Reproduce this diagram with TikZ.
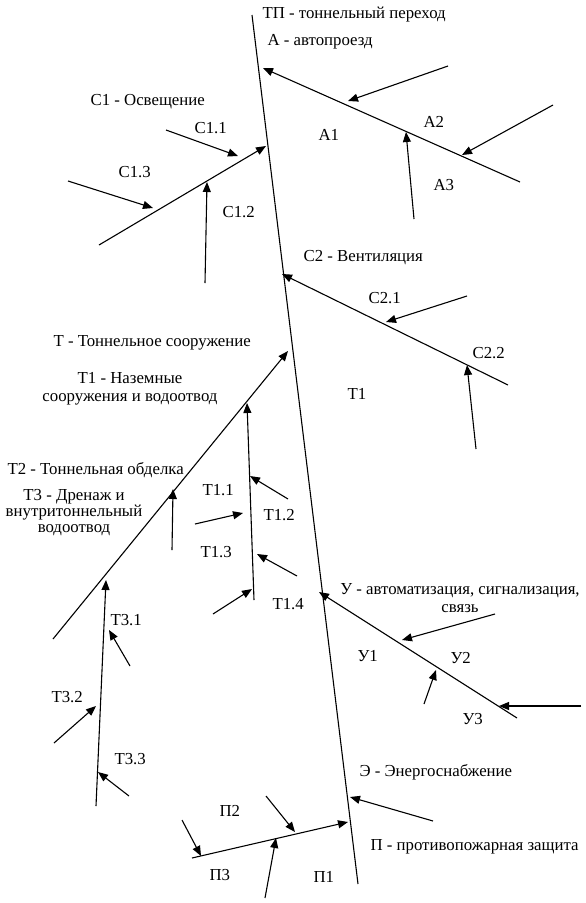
\documentclass[tikz,border=0pt]{standalone}
\usepackage{fontspec}
\setmainfont{Liberation Serif}
\usetikzlibrary{arrows.meta}

\begin{document}
\begin{tikzpicture}[x=1pt, y=-1pt, line width=1.1pt,
    every node/.style={font=\fontsize{16.8}{18}\selectfont, inner sep=0pt},
    lbl/.style={anchor=west},
    arr/.style={-{Triangle[length=10pt,width=8pt]}}]
  \useasboundingbox (0,0) rectangle (586,903);

  % spine
  \coordinate (Top) at (252,15);
  \coordinate (Bot) at (358,884);
  \draw (Top) -- (Bot);

  % A
  \coordinate (A) at (263,68);   \coordinate (Ae) at (520,182);
  \coordinate (A1s) at (448,66);  \coordinate (A1t) at (348,101);
  \coordinate (A3s) at (414,219); \coordinate (A3t) at (406,132);
  \coordinate (A2s) at (553,105); \coordinate (A2t) at (462,155);
  \draw[arr] (Ae) -- (A);
  \draw[arr] (A1s) -- (A1t);
  \draw[arr] (A3s) -- (A3t);
  \draw[arr] (A2s) -- (A2t);

  % C1
  \coordinate (C1) at (266,146);  \coordinate (C1e) at (99,245);
  \coordinate (C11s) at (166,130); \coordinate (C11t) at (238,156);
  \coordinate (C13s) at (68,181);  \coordinate (C13t) at (153,208);
  \coordinate (C12s) at (205,283); \coordinate (C12t) at (207,182);
  \draw[arr] (C1e) -- (C1);
  \draw[arr] (C11s) -- (C11t);
  \draw[arr] (C13s) -- (C13t);
  \draw[arr] (C12s) -- (C12t);

  % C2
  \coordinate (C2) at (282,274);  \coordinate (C2e) at (508,385);
  \coordinate (C21s) at (467,296); \coordinate (C21t) at (386,322);
  \coordinate (C22s) at (476,449); \coordinate (C22t) at (467,365);
  \draw[arr] (C2e) -- (C2);
  \draw[arr] (C21s) -- (C21t);
  \draw[arr] (C22s) -- (C22t);

  % T
  \coordinate (T) at (288,351);   \coordinate (Te) at (53,639);
  \draw[arr] (Te) -- (T);
  \coordinate (T1) at (247,403);  \coordinate (T1e) at (254,600);
  \draw[arr] (T1e) -- (T1);
  \coordinate (T11s) at (288,499); \coordinate (T11t) at (250,476);
  \coordinate (T12s) at (195,524); \coordinate (T12t) at (243,513);
  \coordinate (T13s) at (297,576); \coordinate (T13t) at (257,554);
  \coordinate (T14s) at (213,614); \coordinate (T14t) at (252,589);
  \draw[arr] (T11s) -- (T11t);
  \draw[arr] (T12s) -- (T12t);
  \draw[arr] (T13s) -- (T13t);
  \draw[arr] (T14s) -- (T14t);
  \coordinate (T2s) at (172,550); \coordinate (T2t) at (173,489);
  \draw[arr] (T2s) -- (T2t);
  \coordinate (T3) at (106,580);  \coordinate (T3e) at (96,806);
  \draw[arr] (T3e) -- (T3);
  \coordinate (T31s) at (130,666); \coordinate (T31t) at (109,630);
  \coordinate (T32s) at (54,743);  \coordinate (T32t) at (96,706);
  \coordinate (T33s) at (129,796); \coordinate (T33t) at (98,772);
  \draw[arr] (T31s) -- (T31t);
  \draw[arr] (T32s) -- (T32t);
  \draw[arr] (T33s) -- (T33t);

  % U
  \coordinate (U) at (319,592);   \coordinate (Ue) at (517,718);
  \coordinate (U1s) at (495,614); \coordinate (U1t) at (402,640);
  \coordinate (U2s) at (424,704); \coordinate (U2t) at (436,670);
  \coordinate (U3s) at (581,706); \coordinate (U3t) at (499,706);
  \draw[arr] (Ue) -- (U);
  \draw[arr] (U1s) -- (U1t);
  \draw[arr] (U2s) -- (U2t);
  \draw[arr] (U3s) -- (U3t);

  % E
  \coordinate (Es) at (433,821);  \coordinate (Et) at (350,797);
  \draw[arr] (Es) -- (Et);

  % P
  \coordinate (P) at (348,822);   \coordinate (Pe) at (192,858);
  \coordinate (P3s) at (182,820); \coordinate (P3t) at (201,856);
  \coordinate (P2s) at (266,796); \coordinate (P2t) at (295,832);
  \coordinate (P1s) at (265,898); \coordinate (P1t) at (276,838);
  \draw[arr] (Pe) -- (P);
  \draw[arr] (P3s) -- (P3t);
  \draw[arr] (P2s) -- (P2t);
  \draw[arr] (P1s) -- (P1t);

  % labels
  \node[lbl] (lTP) at (262,15) {ТП - тоннельный переход};
  \node[lbl] (lA) at (267,42) {А - автопроезд};
  \node[lbl] (lA1) at (318,135) {А1};
  \node[lbl] (lA2) at (423,122) {А2};
  \node[lbl] (lA3) at (433,185) {А3};
  \node[lbl] (lC1) at (90,102) {С1 - Освещение};
  \node[lbl] (lC11) at (194,128) {С1.1};
  \node[lbl] (lC13) at (118,172) {С1.3};
  \node[lbl] (lC12) at (222,212) {С1.2};
  \node[lbl] (lC2) at (303,258) {С2 - Вентиляция};
  \node[lbl] (lC21) at (368,298) {С2.1};
  \node[lbl] (lC22) at (472,353) {С2.2};
  \node[lbl] (lT) at (53,343) {Т - Тоннельное сооружение};
  \node[align=center] (lT1) at (130,389) {Т1 - Наземные\\сооружения и водоотвод};
  \node[lbl] (lT1r) at (347,394) {Т1};
  \node[lbl] (lT2) at (7,470) {Т2 - Тоннельная обделка};
  \node[align=center, font=\fontsize{16.8}{16}\selectfont] (lT3) at (74,513)
    {Т3 - Дренаж и\\внутритоннельный\\водоотвод};
  \node[lbl] (lT11) at (202,490) {Т1.1};
  \node[lbl] (lT12) at (263,515) {Т1.2};
  \node[lbl] (lT13) at (200,552) {Т1.3};
  \node[lbl] (lT14) at (272,604) {Т1.4};
  \node[lbl] (lT31) at (110,620) {Т3.1};
  \node[lbl] (lT32) at (51,697) {Т3.2};
  \node[lbl] (lT33) at (114,759) {Т3.3};
  \node[align=center] (lU) at (460,598) {У - автоматизация, сигнализация,\\связь};
  \node[lbl] (lU1) at (357,656) {У1};
  \node[lbl] (lU2) at (450,658) {У2};
  \node[lbl] (lU3) at (462,719) {У3};
  \node[lbl] (lE) at (359,772) {Э - Энергоснабжение};
  \node[lbl] (lP) at (370,847) {П - противопожарная защита};
  \node[lbl] (lP2) at (219,811) {П2};
  \node[lbl] (lP3) at (209,875) {П3};
  \node[lbl] (lP1) at (313,877) {П1};
\end{tikzpicture}
\end{document}
